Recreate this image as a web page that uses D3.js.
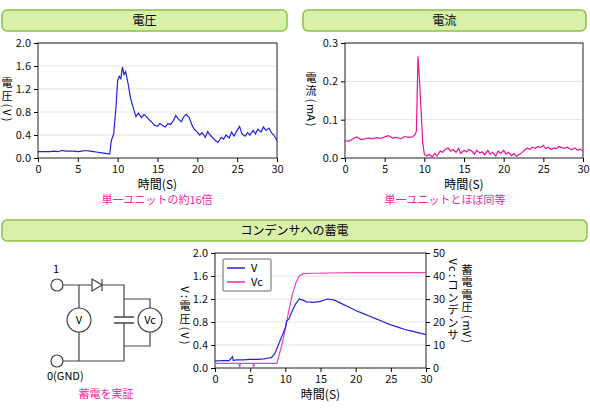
<!DOCTYPE html>
<html><head><meta charset="utf-8">
<script src="https://cdn.jsdelivr.net/npm/d3@7"></script>
<style>
body{margin:0;background:#fff;font-family:"Noto Sans CJK JP",sans-serif;}
text{font-family:"Noto Sans CJK JP",sans-serif;}
</style></head><body>
<svg width="590" height="409"></svg>
<script>
// 電圧 (top left)
const voltT = [0,0.5,1,1.5,2,2.5,3,3.5,4,4.5,5,5.5,6,6.5,7,7.5,8,8.5,9,9.2,9.5,9.8,10,10.2,10.4,10.6,10.8,11,11.3,11.6,12,12.3,12.6,13,13.3,13.6,14,14.3,14.6,15,15.3,15.6,16,16.3,16.6,17,17.3,17.6,18,18.3,18.6,19,19.3,19.6,20,20.3,20.6,21,21.3,21.6,22,22.3,22.6,23,23.3,23.6,24,24.3,24.6,25,25.3,25.6,26,26.3,26.6,27,27.3,27.6,28,28.3,28.6,29,29.3,29.6,30];
const voltV = [0.11,0.11,0.11,0.11,0.12,0.11,0.13,0.12,0.12,0.12,0.11,0.12,0.13,0.12,0.11,0.10,0.09,0.08,0.07,0.3,0.42,0.9,1.35,1.42,1.38,1.58,1.45,1.5,1.3,1.05,0.85,0.72,0.78,0.70,0.76,0.72,0.66,0.62,0.57,0.55,0.60,0.57,0.54,0.60,0.58,0.65,0.74,0.68,0.63,0.72,0.76,0.70,0.58,0.50,0.45,0.40,0.44,0.36,0.46,0.40,0.34,0.30,0.27,0.36,0.33,0.40,0.35,0.45,0.38,0.48,0.55,0.42,0.38,0.44,0.40,0.48,0.42,0.50,0.45,0.54,0.48,0.52,0.44,0.40,0.30];
// 電流 (top right)
const currT = [0,0.5,1,1.5,2,2.5,3,3.5,4,4.5,5,5.5,6,6.5,7,7.5,8,8.5,8.8,9,9.2,9.4,9.6,9.8,10,10.3,10.6,11,11.3,11.6,12,12.3,12.6,13,13.3,13.6,14,14.3,14.6,15,15.3,15.6,16,16.3,16.6,17,17.3,17.6,18,18.3,18.6,19,19.3,19.6,20,20.3,20.6,21,21.3,21.6,22,22.3,22.6,23,23.3,23.6,24,24.3,24.6,25,25.3,25.6,26,26.3,26.6,27,27.3,27.6,28,28.3,28.6,29,29.3,29.6,30];
const currV = [0.045,0.044,0.05,0.055,0.048,0.05,0.052,0.05,0.053,0.051,0.055,0.058,0.052,0.054,0.05,0.056,0.054,0.055,0.06,0.07,0.265,0.2,0.12,0.04,0.01,0.005,0.01,0.003,0.012,0.005,0.018,0.015,0.022,0.026,0.018,0.022,0.015,0.025,0.012,0.02,0.016,0.022,0.018,0.01,0.02,0.013,0.016,0.008,0.02,0.01,0.015,0.005,0.018,0.012,0.02,0.01,0.015,0.006,0.012,0.004,0.01,0.014,0.02,0.026,0.022,0.028,0.025,0.03,0.027,0.033,0.024,0.028,0.022,0.026,0.024,0.03,0.027,0.025,0.028,0.024,0.022,0.026,0.02,0.023,0.018];
// コンデンサへの蓄電 (bottom)
const chgT = [0,1,2,2.5,2.6,3,4,5,6,7,7.5,8,8.5,9,9.5,10,10.2,10.5,11,11.5,12,12.5,13,14,15,16,17,18,19,20,21,22,23,24,25,26,27,28,29,30];
const chgV = [0.12,0.13,0.13,0.2,0.13,0.14,0.14,0.15,0.15,0.16,0.17,0.18,0.25,0.4,0.55,0.7,0.82,0.85,1.0,1.12,1.2,1.18,1.15,1.14,1.16,1.2,1.18,1.12,1.06,1.0,0.95,0.9,0.85,0.8,0.75,0.71,0.67,0.64,0.61,0.58];
const vcT = [0,3.4,3.5,3.6,5.4,5.5,5.6,8.8,9.5,10,10.5,11,11.5,12,12.5,14,20,30];
const vcV = [2,2,0.3,2,2,0.3,2,2,10,17,25,32,37,40,41,41.2,41.5,41.5];
const xTicks = [0,5,10,15,20,25,30];

const svg = d3.select("svg");
const font = 11;

function header(x, w, y, label) {
  svg.append("rect").attr("x", x).attr("y", y).attr("width", w).attr("height", 21).attr("rx", 5)
    .attr("fill", "#d8f0a8").attr("stroke", "#8cc04a").attr("stroke-width", 1.5);
  svg.append("text").attr("x", x + w / 2).attr("y", y + 15).attr("text-anchor", "middle")
    .style("font-size", "12px").text(label);
}

// vertical label, one glyph per row; latin glyphs turned sideways
function vlabel(x, yc, t) {
  const chars = Array.from(t).map(ch => ({ ch, side: /[()A-Za-z:]/.test(ch) }));
  chars.forEach(c => c.h = c.side ? (c.ch === "m" ? 10 : 7) : 12.5);
  const total = d3.sum(chars, c => c.h);
  let y = yc - total / 2;
  const g = svg.append("g");
  chars.forEach(c => {
    const cy = y + c.h / 2;
    y += c.h;
    g.append("text").attr("x", 0).attr("y", 0).attr("text-anchor", "middle").attr("dy", "0.35em")
      .attr("transform", `translate(${x},${cy})` + (c.side ? " rotate(90)" : ""))
      .style("font-size", "11px").text(c.ch);
  });
}

function chart(o) {
  const x = d3.scaleLinear().domain([0, 30]).range([o.x0, o.x1]);
  const y = d3.scaleLinear().domain([0, o.ymax]).range([o.y1, o.y0]);
  const g = svg.append("g");
  g.selectAll(".grid").data(o.yTicks.slice(1)).join("line")
    .attr("x1", o.x0).attr("x2", o.x1).attr("y1", d => y(d)).attr("y2", d => y(d))
    .attr("stroke", "#e4e4e4");
  g.append("rect").attr("x", o.x0).attr("y", o.y0).attr("width", o.x1 - o.x0).attr("height", o.y1 - o.y0)
    .attr("fill", "none").attr("stroke", "#222");
  const ax = g.append("g").attr("transform", `translate(0,${o.y1})`)
    .call(d3.axisBottom(x).tickValues(xTicks).tickSize(4).tickSizeOuter(0));
  const ay = g.append("g").attr("transform", `translate(${o.x0},0)`)
    .call(d3.axisLeft(y).tickValues(o.yTicks).tickFormat(d3.format(o.fmt)).tickSize(4).tickSizeOuter(0));
  [ax, ay].forEach(a => { a.selectAll("text").style("font-size", font + "px").attr("fill", "#111"); a.select(".domain").remove(); });
  g.append("text").attr("x", (o.x0 + o.x1) / 2).attr("y", o.y1 + 31).attr("text-anchor", "middle")
    .style("font-size", "12px").text("時間(S)");
  return { x, y, g };
}

function line(c, xs, ys, color, yScale) {
  const data = xs.map((t, i) => [t, ys[i]]);
  c.g.append("path").datum(data).attr("fill", "none").attr("stroke", color).attr("stroke-width", 1.2)
    .attr("d", d3.line().x(d => c.x(d[0])).y(d => (yScale || c.y)(d[1])));
}

header(2, 285, 10, "電圧");
header(303, 283, 10, "電流");
header(2, 585, 220, "コンデンサへの蓄電");

const c1 = chart({ x0: 38, x1: 277, y0: 43, y1: 158, ymax: 2, yTicks: [0, 0.4, 0.8, 1.2, 1.6, 2.0], fmt: ".1f" });
line(c1, voltT, voltV, "#2222dd");
vlabel(7, 100, "電圧(V)");
svg.append("text").attr("x", 157).attr("y", 204).attr("text-anchor", "middle").attr("fill", "#ee2a9a")
  .style("font-size", "11px").text("単一ユニットの約16倍");

const c2 = chart({ x0: 345, x1: 583, y0: 43, y1: 158, ymax: 0.3, yTicks: [0, 0.1, 0.2, 0.3], fmt: ".1f" });
line(c2, currT, currV, "#e6139a");
vlabel(311, 100, "電流(mA)");
svg.append("text").attr("x", 445).attr("y", 204).attr("text-anchor", "middle").attr("fill", "#ee2a9a")
  .style("font-size", "11px").text("単一ユニットとほぼ同等");

const c3 = chart({ x0: 215, x1: 426, y0: 253, y1: 368, ymax: 2, yTicks: [0, 0.4, 0.8, 1.2, 1.6, 2.0], fmt: ".1f" });
const yR = d3.scaleLinear().domain([0, 50]).range([368, 253]);
const ar = c3.g.append("g").attr("transform", "translate(426,0)")
  .call(d3.axisRight(yR).tickValues([0, 10, 20, 30, 40, 50]).tickSize(4).tickSizeOuter(0));
ar.selectAll("text").style("font-size", font + "px").attr("fill", "#111");
ar.select(".domain").remove();
line(c3, vcT, vcV, "#ee44aa", yR);
line(c3, chgT, chgV, "#2222dd");
vlabel(185, 316, "V:電圧(V)");
vlabel(467, 304, "蓄電電圧(mV)");
vlabel(453, 300, "Vc:コンデンサ");

// legend
const lg = svg.append("g");
lg.append("rect").attr("x", 223).attr("y", 259).attr("width", 48).attr("height", 32).attr("rx", 2)
  .attr("fill", "#fff").attr("stroke", "#999").attr("stroke-width", 1.5);
[["V", "#2222dd"], ["Vc", "#ee2a9a"]].forEach((d, i) => {
  lg.append("line").attr("x1", 227).attr("x2", 245).attr("y1", 268 + i * 14).attr("y2", 268 + i * 14)
    .attr("stroke", d[1]).attr("stroke-width", 1.5);
  lg.append("text").attr("x", 251).attr("y", 272 + i * 14).style("font-size", "11px").text(d[0]);
});

// circuit
const cg = svg.append("g").attr("stroke", "#444").attr("fill", "none").attr("stroke-width", 1.2);
cg.append("path").attr("d", "M63,285H92M102,285H124V299H150V308M150,332V346H124V323M124,317V299M124,323V361H63M79,285V308M79,332V361");
cg.append("path").attr("d", "M92,279L102,285L92,291Z M102,279V291").attr("fill", "#fff");
cg.append("path").attr("d", "M114,317H134M114,323H134").attr("stroke-width", 1.5);
cg.append("circle").attr("cx", 57).attr("cy", 285).attr("r", 6).attr("fill", "#fff");
cg.append("circle").attr("cx", 57).attr("cy", 361).attr("r", 6).attr("fill", "#fff");
cg.append("circle").attr("cx", 79).attr("cy", 320).attr("r", 12).attr("fill", "#fff");
cg.append("circle").attr("cx", 150).attr("cy", 320).attr("r", 12).attr("fill", "#fff");
svg.append("text").attr("x", 79).attr("y", 324).attr("text-anchor", "middle").style("font-size", "11px").text("V");
svg.append("text").attr("x", 150).attr("y", 324).attr("text-anchor", "middle").style("font-size", "11px").text("Vc");
svg.append("text").attr("x", 53).attr("y", 273).style("font-size", "11px").text("1");
svg.append("text").attr("x", 47).attr("y", 380).style("font-size", "11px").text("0(GND)");
svg.append("text").attr("x", 106).attr("y", 398).attr("text-anchor", "middle").attr("fill", "#ee2a9a")
  .style("font-size", "11px").text("蓄電を実証");
</script>
</body></html>
